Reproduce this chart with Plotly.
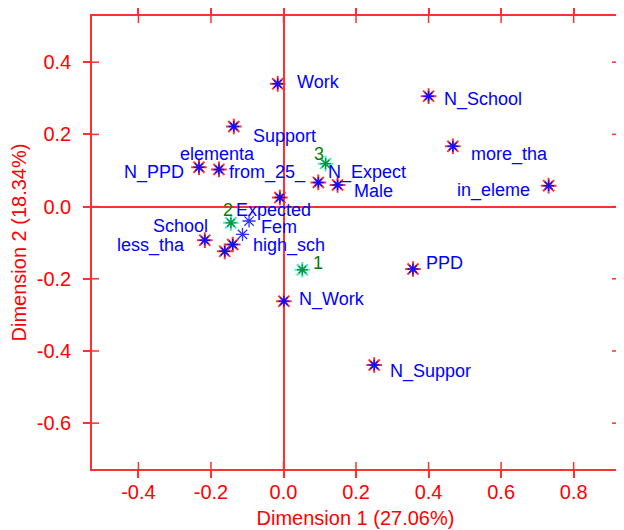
import plotly.graph_objects as go

# Active categories (red + blue asterisks)
cat_labels = ["Work", "N_School", "Support", "more_tha", "in_eleme", "N_PPD",
              "from_25_", "N_Expect", "Male", "Expected", "less_tha", "elementa",
              "School", "PPD", "N_Work", "N_Suppor"]
cat_x = [-0.016, 0.400, -0.137, 0.467, 0.731, -0.233,
         -0.178, 0.096, 0.149, -0.010, -0.217, -0.140,
         -0.162, 0.357, 0.001, 0.250]
cat_y = [0.340, 0.306, 0.222, 0.167, 0.058, 0.109,
         0.103, 0.067, 0.060, 0.025, -0.093, -0.105,
         -0.124, -0.173, -0.262, -0.439]

# Blue-only categories
sup_labels = ["Fem", "high_sch"]
sup_x = [-0.095, -0.113]
sup_y = [-0.040, -0.077]

# Green (clusters / individuals)
grp_labels = ["1", "2", "3"]
grp_x = [0.052, -0.145, 0.116]
grp_y = [-0.175, -0.045, 0.119]

x_ticks = [-0.4, -0.2, 0.0, 0.2, 0.4, 0.6, 0.8]
y_ticks = [-0.6, -0.4, -0.2, 0.0, 0.2, 0.4]
x_title = "Dimension 1 (27.06%)"
y_title = "Dimension 2 (18.34%)"

# label placement (pixel offsets, anchor)
cat_off = {
    "Work": ("left", 17, -2), "N_School": ("left", 13, 3), "Support": ("left", 17, 10),
    "more_tha": ("left", 16, 8), "in_eleme": ("right", -17, 5), "N_PPD": ("right", -13, 5),
    "from_25_": ("left", 8, 3), "N_Expect": ("left", 8, -10), "Male": ("left", 14, 6),
    "Expected": ("center", -6, 12), "less_tha": ("right", -18, 5), "elementa": ("center", -15, -90),
    "School": ("right", -15, -25), "PPD": ("left", 11, -6), "N_Work": ("left", 13, -2),
    "N_Suppor": ("left", 14, 6),
}
sup_off = {"Fem": ("left", 10, 6), "high_sch": ("left", 8, 11)}
grp_off = {"1": ("center", 16, -7), "2": ("center", -3, -13), "3": ("center", -7, -10)}

RED = "#ff0000"
LINE_RED = "#ff3030"
BLUE = "#0000ff"
GREEN = "#008000"
FONT = "Liberation Sans, Arial, sans-serif"
XR = [-0.528, 0.925]
YR = [-0.727, 0.528]
TL = 7

fig = go.Figure()
fig.add_trace(go.Scatter(x=cat_x, y=cat_y, mode="markers", hoverinfo="skip",
                         marker=dict(symbol="asterisk-open", size=13, color="#ff3030",
                                     line=dict(width=2))))
fig.add_trace(go.Scatter(x=cat_x, y=cat_y, mode="markers", hoverinfo="skip",
                         marker=dict(symbol="asterisk-open", size=9, color="#1010ff",
                                     line=dict(width=1.5))))
fig.add_trace(go.Scatter(x=sup_x, y=sup_y, mode="markers", hoverinfo="skip",
                         marker=dict(symbol="asterisk-open", size=11, color="#3030ff",
                                     line=dict(width=1.3))))
fig.add_trace(go.Scatter(x=grp_x, y=grp_y, mode="markers", hoverinfo="skip",
                         marker=dict(symbol="asterisk-open", size=13, color="#40f0c0",
                                     line=dict(width=2))))
fig.add_trace(go.Scatter(x=grp_x, y=grp_y, mode="markers", hoverinfo="skip",
                         marker=dict(symbol="asterisk-open", size=9, color="#109040",
                                     line=dict(width=1.4))))

def add_labels(labels, xs, ys, offs, color):
    for lab, x, y in zip(labels, xs, ys):
        anchor, dx, dy = offs[lab]
        fig.add_annotation(x=x, y=y, xref="x", yref="y", text=lab, showarrow=False,
                           xanchor=anchor, yanchor="middle", xshift=dx, yshift=-dy,
                           font=dict(family=FONT, size=18, color=color))

add_labels(cat_labels, cat_x, cat_y, cat_off, BLUE)
add_labels(sup_labels, sup_x, sup_y, sup_off, BLUE)
add_labels(grp_labels, grp_x, grp_y, grp_off, GREEN)

# inward tick halves (the reference's ticks cross the frame)
for v in x_ticks:
    for side in (0, 1):
        d = 1 if side == 0 else -1
        fig.add_shape(type="line", xref="x", yref="paper", ysizemode="pixel", yanchor=side,
                      x0=v, x1=v, y0=0, y1=d * TL, line=dict(color=LINE_RED, width=1.5))
for v in y_ticks:
    for side in (0, 1):
        d = 1 if side == 0 else -1
        fig.add_shape(type="line", yref="y", xref="paper", xsizemode="pixel", xanchor=side,
                      y0=v, y1=v, x0=0, x1=d * TL, line=dict(color=LINE_RED, width=1.5))

axis_common = dict(showgrid=False, ticklen=TL, tickwidth=1.5, tickcolor=LINE_RED,
                   ticks="outside", mirror="ticks", showline=True, linecolor=LINE_RED,
                   linewidth=1.5, zeroline=True, zerolinecolor=LINE_RED, zerolinewidth=1.5,
                   automargin=False, tickfont=dict(size=20, color=RED, family=FONT))
# page body adds an 8px offset, so the figure is 8px smaller and margins compensate
fig.update_layout(
    width=616, height=522,
    margin=dict(l=84, r=5, t=8, b=61),
    paper_bgcolor="white", plot_bgcolor="white",
    showlegend=False,
    font=dict(family=FONT, color=RED),
    xaxis=dict(range=XR, tickvals=x_ticks, ticktext=[f"{v:.1f}" for v in x_ticks],
               ticklabelstandoff=-3,
               title=dict(text=x_title, font=dict(size=20, color=RED, family=FONT), standoff=9),
               **axis_common),
    yaxis=dict(range=YR, tickvals=y_ticks, ticktext=[f"{v:.1f}" for v in y_ticks],
               ticklabelstandoff=8,
               title=dict(text=y_title, font=dict(size=20, color=RED, family=FONT), standoff=6),
               **axis_common),
)

fig.write_html("out.html")
